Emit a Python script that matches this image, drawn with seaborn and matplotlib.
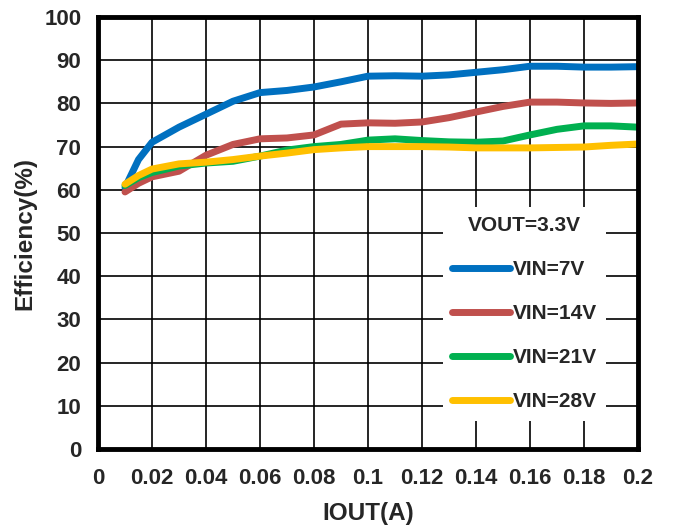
import matplotlib
matplotlib.use("Agg")
import matplotlib.pyplot as plt
import seaborn as sns
import pandas as pd

# corriente de salida (A)
iout = [0.01, 0.015, 0.02, 0.03, 0.04, 0.05, 0.06, 0.07, 0.08, 0.09, 0.1,
        0.11, 0.12, 0.13, 0.14, 0.15, 0.16, 0.17, 0.18, 0.19, 0.2]

vin_7 = [60.5, 67.0, 71.0, 74.5, 77.5, 80.5, 82.5, 83.0, 83.8, 85.0, 86.3,
         86.4, 86.3, 86.6, 87.2, 87.8, 88.6, 88.6, 88.4, 88.4, 88.5]
vin_14 = [59.5, 61.5, 63.0, 64.3, 68.0, 70.5, 71.8, 72.0, 72.7, 75.2, 75.5,
          75.4, 75.7, 76.7, 78.0, 79.3, 80.3, 80.3, 80.1, 80.0, 80.1]
vin_21 = [61.0, 62.8, 64.0, 65.5, 66.2, 66.6, 67.8, 69.2, 70.0, 70.5, 71.5,
          71.8, 71.4, 71.1, 71.0, 71.3, 72.7, 74.0, 74.8, 74.8, 74.5]
vin_28 = [61.3, 63.3, 64.8, 66.0, 66.4, 67.0, 67.8, 68.5, 69.3, 69.7, 70.0,
          70.0, 70.0, 69.9, 69.7, 69.7, 69.7, 69.8, 69.9, 70.3, 70.6]

series = ["VIN=7V", "VIN=14V", "VIN=21V", "VIN=28V"]
colores = ["#0070C0", "#C0504D", "#00B050", "#FFC000"]

xticks = [0, 0.02, 0.04, 0.06, 0.08, 0.1, 0.12, 0.14, 0.16, 0.18, 0.2]
xlabels = ["0", "0.02", "0.04", "0.06", "0.08", "0.1", "0.12", "0.14", "0.16", "0.18", "0.2"]
yticks = list(range(0, 101, 10))

df = pd.concat([
    pd.DataFrame({"IOUT": iout, "Eff": vals, "serie": nombre})
    for nombre, vals in zip(series, [vin_7, vin_14, vin_21, vin_28])
])

sns.set_style("white")
plt.rcParams["font.family"] = ["Liberation Sans", "DejaVu Sans"]
plt.rcParams["font.weight"] = "bold"

fig = plt.figure(figsize=(6.73, 5.30), dpi=100)
ax = fig.add_axes([98 / 673, 1 - 449 / 530, 540 / 673, 432 / 530])

sns.lineplot(data=df, x="IOUT", y="Eff", hue="serie", hue_order=series,
             palette=colores, linewidth=5, ax=ax, sort=True)
for ln in ax.get_lines():
    ln.set_solid_joinstyle("round")
    ln.set_solid_capstyle("round")

ax.set_xlim(0, 0.2)
ax.set_ylim(0, 100)
ax.set_xticks(xticks)
ax.set_xticklabels(xlabels)
ax.set_yticks(yticks)
ax.grid(True, color="black", linewidth=1.2)
ax.set_axisbelow(True)
for s in ax.spines.values():
    s.set_color("black")
    s.set_linewidth(3.5)
ax.tick_params(length=0, labelsize=16)
ax.tick_params(axis="x", pad=14)
ax.tick_params(axis="y", pad=12)
for lab in ax.get_xticklabels() + ax.get_yticklabels():
    lab.set_fontweight("bold")

ax.set_xlabel("IOUT(A)", fontsize=17.5, fontweight="bold", labelpad=9)
ax.set_ylabel("Efficiency(%)", fontsize=17.5, fontweight="bold", labelpad=6)

leg = ax.legend(title="VOUT=3.3V", loc="upper left", bbox_to_anchor=(0.639, 0.56),
                frameon=True, facecolor="white", edgecolor="none", framealpha=1,
                fontsize=15, title_fontproperties={"weight": "bold", "size": 15},
                handlelength=2.74, handletextpad=0.15, labelspacing=1.2,
                borderpad=0.45, borderaxespad=0, fancybox=False)
for h in leg.get_lines():
    h.set_linewidth(5)
    h.set_solid_capstyle("round")
for t in leg.get_texts():
    t.set_fontweight("bold")

fig.savefig("out.png", dpi=100)
